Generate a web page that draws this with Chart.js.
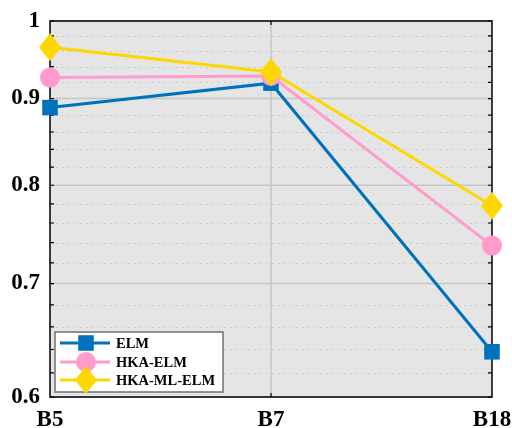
<!DOCTYPE html>
<html>
<head>
<meta charset="utf-8">
<script src="https://cdn.jsdelivr.net/npm/chart.js@4.4.1/dist/chart.umd.min.js"></script>
<style>
  html, body { margin: 0; padding: 0; background: #ffffff; }
  #wrap { width: 512px; height: 428px; }
</style>
</head>
<body>
<div id="wrap"><canvas id="c" width="512" height="428"></canvas></div>
<script>
// Band labels along the x axis
const categories = ['B5', 'B7', 'B18'];

// Accuracy of each model per band
const elmValues      = [0.889, 0.919, 0.638];
const hkaElmValues   = [0.926, 0.928, 0.737];
const hkaMlElmValues = [0.965, 0.933, 0.778];

// Labelled y ticks and the spacing of the minor (dotted) grid
const yTickLabels = [0.6, 0.7, 0.8, 0.9, 1];
const yMinorStep = 0.02;

const FONT = '"Liberation Serif", "Times New Roman", serif';
const BLUE = '#0072BD';
const PINK = '#FF9BCD';
const YELLOW = '#FFD700';

// Tall diamond marker (narrower than it is high)
function makeDiamond(w, h, color) {
  const cv = document.createElement('canvas');
  cv.width = w; cv.height = h;
  const g = cv.getContext('2d');
  g.fillStyle = color;
  g.beginPath();
  g.moveTo(w / 2, 0);
  g.lineTo(w, h / 2);
  g.lineTo(w / 2, h);
  g.lineTo(0, h / 2);
  g.closePath();
  g.fill();
  return cv;
}
const diamond = makeDiamond(22, 28, YELLOW);

const minorValues = [];
for (let v = yTickLabels[0]; v < yTickLabels[yTickLabels.length - 1] - 1e-9; v += yMinorStep) {
  const r = Math.round(v * 100) / 100;
  if (!yTickLabels.some(t => Math.abs(t - r) < 1e-6)) minorValues.push(r);
}

// Background, grid, frame and inward tick marks
const framePlugin = {
  id: 'frame',
  beforeDatasetsDraw(chart) {
    const { ctx, chartArea: a, scales } = chart;
    const ys = scales.y, xs = scales.x;
    ctx.save();
    ctx.fillStyle = '#E5E5E5';
    ctx.fillRect(a.left, a.top, a.right - a.left, a.bottom - a.top);

    // minor dotted grid
    ctx.strokeStyle = '#C2C2C2';
    ctx.lineWidth = 1;
    ctx.setLineDash([1.5, 4.5]);
    minorValues.forEach(v => {
      const y = Math.round(ys.getPixelForValue(v)) + 0.5;
      ctx.beginPath(); ctx.moveTo(a.left, y); ctx.lineTo(a.right, y); ctx.stroke();
    });
    ctx.setLineDash([]);

    // major grid
    ctx.strokeStyle = '#C6C6C6';
    ctx.lineWidth = 1.5;
    yTickLabels.forEach(v => {
      const y = ys.getPixelForValue(v);
      ctx.beginPath(); ctx.moveTo(a.left, y); ctx.lineTo(a.right, y); ctx.stroke();
    });
    for (let i = 1; i < categories.length - 1; i++) {
      const x = xs.getPixelForValue(i);
      ctx.beginPath(); ctx.moveTo(x, a.top); ctx.lineTo(x, a.bottom); ctx.stroke();
    }

    // frame
    ctx.strokeStyle = '#000000';
    ctx.lineWidth = 1.5;
    ctx.strokeRect(a.left, a.top, a.right - a.left, a.bottom - a.top);

    // inward tick marks
    ctx.lineWidth = 1.2;
    const tl = 4;
    yTickLabels.concat(minorValues).forEach(v => {
      const y = ys.getPixelForValue(v);
      ctx.beginPath();
      ctx.moveTo(a.left, y); ctx.lineTo(a.left + tl, y);
      ctx.moveTo(a.right, y); ctx.lineTo(a.right - tl, y);
      ctx.stroke();
    });
    for (let i = 1; i < categories.length - 1; i++) {
      const x = xs.getPixelForValue(i);
      ctx.beginPath();
      ctx.moveTo(x, a.top); ctx.lineTo(x, a.top + tl);
      ctx.moveTo(x, a.bottom); ctx.lineTo(x, a.bottom - tl);
      ctx.stroke();
    }
    ctx.restore();
  }
};

// Legend box in the lower-left corner of the plot
function drawMarker(ctx, ds, x, y) {
  const style = ds.pointStyle;
  ctx.fillStyle = ds.pointBackgroundColor;
  if (style instanceof HTMLCanvasElement) {
    ctx.drawImage(style, x - style.width / 2, y - style.height / 2);
  } else if (style === 'rect') {
    const s = ds.pointRadius * Math.SQRT1_2;
    ctx.fillRect(x - s, y - s, 2 * s, 2 * s);
  } else {
    ctx.beginPath(); ctx.arc(x, y, ds.pointRadius, 0, Math.PI * 2); ctx.fill();
  }
}
const legendPlugin = {
  id: 'boxLegend',
  afterDatasetsDraw(chart) {
    const { ctx, chartArea: a } = chart;
    const bx = a.left + 5, by = a.bottom - 65, bw = 168, bh = 60;
    ctx.save();
    ctx.fillStyle = '#ffffff';
    ctx.fillRect(bx, by, bw, bh);
    ctx.strokeStyle = '#707070';
    ctx.lineWidth = 1.5;
    ctx.strokeRect(bx, by, bw, bh);
    const rows = [by + 11, by + 30, by + 48];
    chart.data.datasets.forEach((ds, i) => {
      const y = rows[i];
      ctx.strokeStyle = ds.borderColor;
      ctx.lineWidth = 3;
      ctx.beginPath(); ctx.moveTo(bx + 5, y); ctx.lineTo(bx + 55, y); ctx.stroke();
      drawMarker(ctx, ds, bx + 31, y);
      ctx.fillStyle = '#000000';
      ctx.font = 'bold 14.5px ' + FONT;
      ctx.textBaseline = 'middle';
      ctx.textAlign = 'left';
      ctx.fillText(ds.label, bx + 61, y + 1);
    });
    ctx.restore();
  }
};

new Chart(document.getElementById('c'), {
  type: 'line',
  data: {
    labels: categories,
    datasets: [
      { label: 'ELM', data: elmValues, borderColor: BLUE, backgroundColor: BLUE,
        pointBackgroundColor: BLUE, pointBorderWidth: 0, pointStyle: 'rect', pointRadius: 11,
        borderWidth: 3, order: 3, clip: false },
      { label: 'HKA-ELM', data: hkaElmValues, borderColor: PINK, backgroundColor: PINK,
        pointBackgroundColor: PINK, pointBorderWidth: 0, pointStyle: 'circle', pointRadius: 10,
        borderWidth: 3, order: 2, clip: false },
      { label: 'HKA-ML-ELM', data: hkaMlElmValues, borderColor: YELLOW, backgroundColor: YELLOW,
        pointBackgroundColor: YELLOW, pointBorderWidth: 0, pointStyle: diamond, pointRadius: 11,
        borderWidth: 3, order: 1, clip: false }
    ]
  },
  options: {
    responsive: false,
    animation: false,
    layout: { padding: { top: 21, right: 20, left: 0, bottom: 0 } },
    plugins: { legend: { display: false }, tooltip: { enabled: false } },
    elements: { line: { tension: 0 } },
    scales: {
      x: {
        type: 'category',
        offset: false,
        grid: { display: false, drawTicks: false },
        border: { display: false },
        ticks: { color: '#000', font: { family: FONT, size: 23, weight: 'bold' }, padding: 9, maxRotation: 0 },
        afterFit(scale) { scale.height = 31; scale.paddingLeft = 0; scale.paddingRight = 0; }
      },
      y: {
        type: 'logarithmic',
        min: yTickLabels[0],
        max: yTickLabels[yTickLabels.length - 1],
        grid: { display: false, drawTicks: false },
        border: { display: false },
        afterBuildTicks(scale) { scale.ticks = yTickLabels.map(v => ({ value: v })); },
        ticks: {
          color: '#000',
          font: { family: FONT, size: 23, weight: 'bold' },
          padding: 10,
          callback: v => (Math.abs(v - 1) < 1e-9 ? '1' : Number(v).toFixed(1))
        },
        afterFit(scale) { scale.width = 50; scale.paddingTop = 0; scale.paddingBottom = 0; }
      }
    }
  },
  plugins: [framePlugin, legendPlugin]
});
</script>
</body>
</html>
